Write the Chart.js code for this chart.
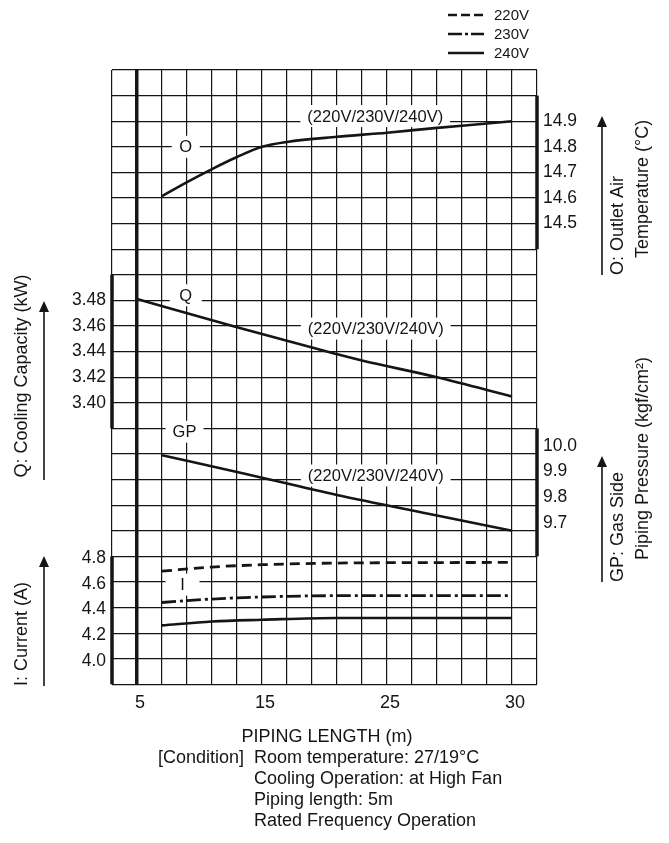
<!DOCTYPE html>
<html><head><meta charset="utf-8">
<script src="https://cdn.jsdelivr.net/npm/chart.js@4/dist/chart.umd.min.js"></script>
<style>html,body{margin:0;padding:0;background:#fff}#wrap{width:669px;height:843px;position:relative}</style>
</head><body><div id="wrap"><canvas id="c" width="669" height="843"></canvas></div>
<script>
// Horizontal axis: grid column index, column 0 = 5 m (axis printed non-linearly)
const xTickLabels = {0:'5', 5:'15', 10:'25', 15:'30'};
// O: outlet air temperature (°C)
const oX      = [1, 2, 3, 4, 5, 6, 8, 10, 12, 14, 15];
const oValues = [14.607, 14.662, 14.713, 14.760, 14.80, 14.819, 14.839, 14.855, 14.874, 14.891, 14.90];
// Q: cooling capacity (kW)
const qX      = [0, 4, 8, 9, 12, 15];
const qValues = [3.481, 3.459, 3.438, 3.433, 3.420, 3.405];
// GP: gas side piping pressure (kgf/cm2)
const gpX      = [1, 4, 8, 12, 15];
const gpValues = [9.995, 9.93, 9.84, 9.76, 9.70];
// I: current (A)
const iX   = [1, 3, 5, 8, 15];
const i220 = [4.685, 4.717, 4.735, 4.748, 4.753];
const i230 = [4.440, 4.467, 4.483, 4.493, 4.493];
const i240 = [4.261, 4.292, 4.305, 4.319, 4.319];
// tick labels of each value axis
const oTicks  = [14.5, 14.6, 14.7, 14.8, 14.9];
const qTicks  = [3.40, 3.42, 3.44, 3.46, 3.48];
const gpTicks = [9.7, 9.8, 9.9, 10.0];
const iTicks  = [4.0, 4.2, 4.4, 4.6, 4.8];
const voltLabel = '(220V/230V/240V)';
const conditionLines = ['Room temperature: 27/19\u00B0C','Cooling Operation: at High Fan','Piping length: 5m','Rated Frequency Operation'];

const INK = '#151515';
const FONT = '"Liberation Sans", Arial, Helvetica, sans-serif';
const pts = (xs, ys) => xs.map((x, i) => ({x, y: ys[i]}));

const lineDs = (label, xs, ys, axis, dash, w) => ({
  label, data: pts(xs, ys), yAxisID: axis, xAxisID: 'x',
  borderColor: INK, borderWidth: w || 2.6, borderDash: dash || [],
  pointRadius: 0, fill: false, cubicInterpolationMode: 'monotone'
});

const inlineLabels = [
  {text:'O',  axis:'yO',  x:1.95, y:14.80, w:28},
  {text:voltLabel, axis:'yO', x:9.53, y:14.92},
  {text:'Q',  axis:'yQ',  x:1.95, y:3.484, w:32},
  {text:voltLabel, axis:'yQ', x:9.55, y:3.458},
  {text:'GP', axis:'yGP', x:1.9,  y:10.087, w:38},
  {text:voltLabel, axis:'yGP', x:9.55, y:9.916},
  {text:'I',  axis:'yI',  x:1.82, y:4.58, w:34}
];

const axisSegments = [
  {axis:'yQ',  side:'left',  from:3.50, to:3.38},
  {axis:'yI',  side:'left',  from:4.8,  to:3.8},
  {axis:'yO',  side:'right', from:15.0, to:14.4},
  {axis:'yGP', side:'right', from:10.1, to:9.6}
];
const axisTickSets = [
  {axis:'yQ',  side:'left',  ticks:qTicks,  dec:2, dy:0},
  {axis:'yI',  side:'left',  ticks:iTicks,  dec:1, dy:2},
  {axis:'yO',  side:'right', ticks:oTicks,  dec:1, dy:0},
  {axis:'yGP', side:'right', ticks:gpTicks, dec:1, dy:-8}
];

function arrow(ctx, x, y0, y1){
  ctx.beginPath(); ctx.moveTo(x, y0); ctx.lineTo(x, y1 + 8); ctx.lineWidth = 1.6; ctx.strokeStyle = INK; ctx.stroke();
  ctx.beginPath(); ctx.moveTo(x, y1); ctx.lineTo(x - 5, y1 + 11); ctx.lineTo(x + 5, y1 + 11); ctx.closePath();
  ctx.fillStyle = INK; ctx.fill();
}
function vtext(ctx, txt, x, y, align){
  ctx.save(); ctx.translate(x, y); ctx.rotate(-Math.PI/2);
  ctx.textAlign = align; ctx.textBaseline = 'middle'; ctx.fillText(txt, 0, 0); ctx.restore();
}

const decor = {
  id: 'decor',
  beforeDraw(chart){
    const ctx = chart.ctx;
    ctx.save(); ctx.fillStyle = '#fff'; ctx.fillRect(0, 0, chart.width, chart.height); ctx.restore();
  },
  beforeDatasetsDraw(chart){
    const {ctx, scales: s} = chart;
    ctx.save();
    ctx.font = '16.5px ' + FONT;
    inlineLabels.forEach(l => {
      const x = s.x.getPixelForValue(l.x), y = s[l.axis].getPixelForValue(l.y);
      const w = l.w || ctx.measureText(l.text).width + 14;
      ctx.fillStyle = '#fff'; ctx.fillRect(x - w/2, y - 11, w, 22);
      ctx.fillStyle = INK; ctx.textAlign = 'center'; ctx.textBaseline = 'middle';
      ctx.fillText(l.text, x, y + 1);
    });
    ctx.restore();
  },
  afterDraw(chart){
    const {ctx, scales: s, chartArea: a} = chart;
    ctx.save();
    // thick axis segments
    ctx.strokeStyle = INK; ctx.lineWidth = 3.5; ctx.lineCap = 'butt';
    axisSegments.forEach(g => {
      const x = g.side === 'left' ? a.left : a.right;
      ctx.beginPath(); ctx.moveTo(x, s[g.axis].getPixelForValue(g.from)); ctx.lineTo(x, s[g.axis].getPixelForValue(g.to)); ctx.stroke();
    });
    // value axis tick labels
    ctx.fillStyle = INK; ctx.font = '17.5px ' + FONT; ctx.textBaseline = 'middle';
    axisTickSets.forEach(t => {
      ctx.textAlign = t.side === 'left' ? 'right' : 'left';
      const x = t.side === 'left' ? a.left - 6 : a.right + 6;
      t.ticks.forEach(v => ctx.fillText(v.toFixed(t.dec), x, s[t.axis].getPixelForValue(v) + t.dy));
    });
    // axis titles
    ctx.font = '18px ' + FONT;
    vtext(ctx, 'Q: Cooling Capacity (kW)', 22, 376, 'center');
    vtext(ctx, 'I: Current (A)', 22, 634, 'center');
    vtext(ctx, 'O: Outlet Air', 618, 275, 'left');
    vtext(ctx, 'Temperature (\u00B0C)', 643, 258, 'left');
    vtext(ctx, 'GP: Gas Side', 618, 582, 'left');
    vtext(ctx, 'Piping Pressure (kgf/cm\u00B2)', 643, 560, 'left');
    arrow(ctx, 44, 480, 301);
    arrow(ctx, 44, 686, 556);
    arrow(ctx, 602, 275, 116);
    arrow(ctx, 602, 582, 456);
    // bottom texts
    ctx.textAlign = 'center'; ctx.textBaseline = 'middle';
    ctx.fillText('PIPING LENGTH (m)', 327, 737);
    ctx.textAlign = 'left';
    ctx.fillText('[Condition]', 158, 758);
    conditionLines.forEach((t, i) => ctx.fillText(t, 254, 758 + i * 21));
    // legend
    ctx.font = '15px ' + FONT;
    const legendSets = chart.data.datasets.filter(d => d.legend);
    legendSets.forEach((d, i) => {
      const y = 15 + i * 19;
      ctx.beginPath(); ctx.setLineDash(d.legendDash); ctx.lineWidth = 2.6; ctx.strokeStyle = INK;
      ctx.moveTo(448, y); ctx.lineTo(484, y); ctx.stroke();
      ctx.setLineDash([]);
      ctx.fillText(d.label, 494, y + 1);
    });
    ctx.restore();
  }
};

const ds220 = Object.assign(lineDs('220V', iX, i220, 'yI', [10, 6], 2.8), {legend:true, legendDash:[9, 4]});
const ds230 = Object.assign(lineDs('230V', iX, i230, 'yI', [14, 4, 3, 4], 2.8), {legend:true, legendDash:[14, 3, 3, 3]});
const ds240 = Object.assign(lineDs('240V', iX, i240, 'yI', [], 2.6), {legend:true, legendDash:[]});

new Chart(document.getElementById('c'), {
  type: 'line',
  data: {
    datasets: [
      lineDs('O', oX, oValues, 'yO'),
      lineDs('Q', qX, qValues, 'yQ'),
      lineDs('GP', gpX, gpValues, 'yGP'),
      ds220, ds230, ds240
    ]
  },
  options: {
    responsive: false, animation: false, devicePixelRatio: 1,
    layout: {padding: {left: 112, right: 132, top: 70, bottom: 128.6}},
    plugins: {legend: {display: false}, tooltip: {enabled: false}},
    scales: {
      x: {
        type: 'linear', min: -1, max: 16, position: 'bottom',
        border: {display: false},
        grid: {color: INK, lineWidth: c => (c.tick && c.tick.value === 0) ? 3.5 : 1.2, drawTicks: false},
        ticks: {stepSize: 1, autoSkip: false, maxRotation: 0, padding: 8, labelOffset: 3, color: INK,
                font: {family: FONT, size: 18}, callback: v => xTickLabels[v] || ''},
        afterFit: sc => { sc.height = 30; }
      },
      y: {
        type: 'linear', min: 0, max: 24, position: 'left',
        border: {display: false},
        grid: {color: INK, lineWidth: 1.2, drawTicks: false},
        ticks: {display: false, stepSize: 1, maxTicksLimit: 100},
        afterFit: sc => { sc.width = 0; }
      },
      yQ:  {type: 'linear', display: false, min: 3.18, max: 3.66},
      yI:  {type: 'linear', display: false, min: 3.8,  max: 8.6},
      yO:  {type: 'linear', display: false, min: 12.7, max: 15.1},
      yGP: {type: 'linear', display: false, min: 9.1,  max: 11.5}
    }
  },
  plugins: [decor]
});
</script></body></html>
